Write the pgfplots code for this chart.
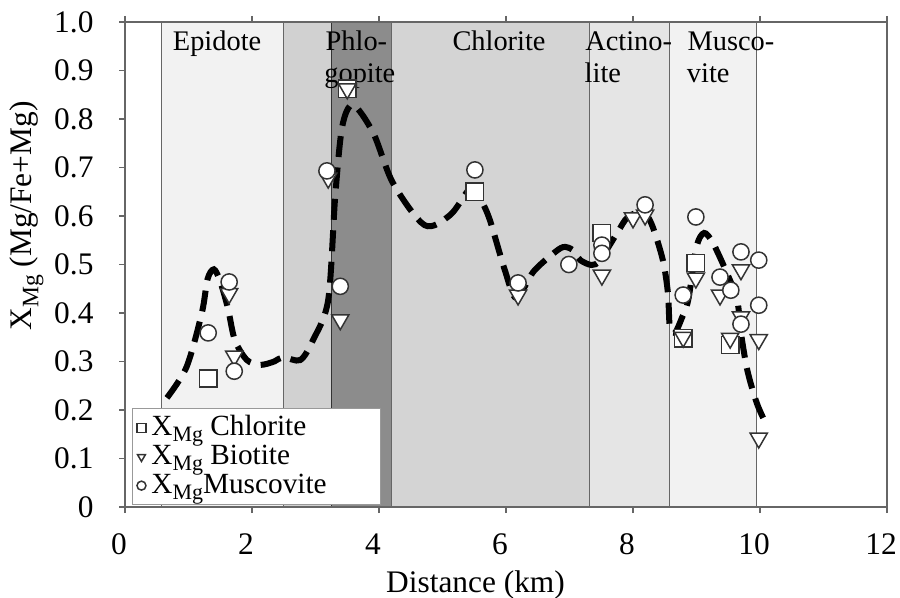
\documentclass[border=0pt]{standalone}
\usepackage{fontspec}
\setmainfont{Liberation Serif}
\usepackage{graphicx}
\usepackage{pgfplots}
\pgfplotsset{compat=1.18}
\newcommand\Mg{\raisebox{-0.45ex}{\scalebox{0.75}{Mg}}}
\definecolor{bandA}{gray}{0.95}
\definecolor{bandB}{gray}{0.82}
\definecolor{bandC}{gray}{0.55}
\definecolor{bandD}{gray}{0.83}
\definecolor{bandE}{gray}{0.90}
\definecolor{bandF}{gray}{0.95}
\definecolor{edge}{gray}{0.40}
\begin{document}
\begin{tikzpicture}
\begin{axis}[
  scale only axis, width=254bp, height=161.67bp,
  xmin=0, xmax=12, ymin=0, ymax=1,
  xtick={0,2,4,6,8,10,12},
  ytick={0,0.1,0.2,0.3,0.4,0.5,0.6,0.7,0.8,0.9,1.0},
  yticklabels={0,0.1,0.2,0.3,0.4,0.5,0.6,0.7,0.8,0.9,1.0},
  /pgf/number format/assume math mode=true,
  xtick pos=both, ytick pos=left, tick align=outside,
  major tick length=2bp,
  axis line style={edge},
  every tick/.style={edge},
  ticklabel style={font=\fontsize{10.5}{12}\selectfont},
  xticklabel style={yshift=-3.5bp, xshift=-2bp},
  yticklabel style={xshift=-5bp},
  xlabel={Distance (km)},
  ylabel={X\Mg{} (Mg/Fe+Mg)},
  label style={font=\fontsize{10.5}{12}\selectfont},
  xlabel style={at={(axis description cs:0.46,0)}, anchor=base, yshift=-28.5bp},
  ylabel style={at={(axis description cs:-0.129,0.60)}, anchor=center, rotate=0},
  axis on top,
  legend image code/.code={\draw[#1, mark size=1.5bp, line width=0.4pt] plot coordinates {(0bp,0bp)};},
  legend style={at={(0.009,0.004)}, anchor=south west, draw=gray!80, fill=white,
    font=\fontsize{9.8}{9.8}\selectfont, inner sep=1.5bp, row sep=0bp,
    column sep=1bp, cells={anchor=west}, nodes={inner sep=0.8bp}},
]
% mineral zones
\addplot[fill=bandA, draw=edge, forget plot] coordinates {(0.58,0) (0.58,1) (2.49,1) (2.49,0)} \closedcycle;
\addplot[fill=bandB, draw=edge, forget plot] coordinates {(2.49,0) (2.49,1) (3.25,1) (3.25,0)} \closedcycle;
\addplot[fill=bandC, draw=black!80, forget plot] coordinates {(3.25,0) (3.25,1) (4.20,1) (4.20,0)} \closedcycle;
\addplot[fill=bandD, draw=edge, forget plot] coordinates {(4.20,0) (4.20,1) (7.31,1) (7.31,0)} \closedcycle;
\addplot[fill=bandE, draw=edge, forget plot] coordinates {(7.31,0) (7.31,1) (8.57,1) (8.57,0)} \closedcycle;
\addplot[fill=bandF, draw=edge, forget plot] coordinates {(8.57,0) (8.57,1) (9.95,1) (9.95,0)} \closedcycle;
% trend curve
\addplot[black, line width=2bp, dash pattern=on 7bp off 3.5bp, smooth, tension=0.5, forget plot] coordinates {
(0.66,0.225) (0.97,0.289) (1.21,0.40) (1.30,0.47) (1.40,0.49) (1.50,0.465) (1.62,0.41) (1.73,0.344)
(1.92,0.303) (2.13,0.293) (2.35,0.30) (2.49,0.309) (2.76,0.303) (2.96,0.344) (3.20,0.427)
(3.31,0.64) (3.42,0.784) (3.59,0.829) (3.91,0.771) (4.22,0.668) (4.72,0.581) (5.12,0.602)
(5.40,0.652) (5.50,0.655) (5.62,0.63) (5.75,0.59) (5.98,0.489) (6.16,0.431) (6.43,0.485)
(6.72,0.52) (6.90,0.536) (7.05,0.53) (7.17,0.509) (7.35,0.499) (7.48,0.509) (7.75,0.565)
(7.92,0.598) (8.16,0.608) (8.30,0.581) (8.47,0.509) (8.55,0.441) (8.58,0.371) (8.66,0.359)
(8.77,0.39) (8.87,0.427) (9.00,0.536) (9.12,0.565) (9.26,0.544) (9.48,0.482) (9.64,0.427)
(9.70,0.359) (9.80,0.282) (9.95,0.214) (10.11,0.167)
};
% data
\addplot[only marks, mark=square*, mark size=2.9bp, mark options={fill=white, draw=black!80, line width=0.5pt}] coordinates {
(1.31,0.265) (3.50,0.862) (5.51,0.65) (7.51,0.565) (8.79,0.348) (8.99,0.503) (9.53,0.334)
};
\addlegendentry{\makebox[74bp][l]{X\Mg{} Chlorite}}
\addplot[only marks, mark=triangle*, mark size=3.3bp, mark options={rotate=180, fill=white, draw=black!80, line width=0.5pt}] coordinates {
(1.64,0.44) (1.72,0.311) (3.20,0.678) (3.39,0.386) (3.50,0.862) (6.19,0.437) (7.51,0.478)
(8.00,0.596) (8.19,0.602) (8.79,0.35) (8.99,0.472) (9.37,0.437) (9.70,0.489) (9.70,0.392)
(9.53,0.348) (9.98,0.345) (9.98,0.142)
};
\addlegendentry{\makebox[74bp][l]{X\Mg{} Biotite}}
\addplot[only marks, mark=*, mark size=2.7bp, mark options={fill=white, draw=black!80, line width=0.5pt}] coordinates {
(1.31,0.359) (1.64,0.464) (1.72,0.28) (3.18,0.693) (3.39,0.455) (5.51,0.695) (6.19,0.462)
(6.99,0.50) (7.51,0.54) (7.51,0.523) (8.19,0.623) (8.99,0.598) (8.79,0.437) (9.37,0.474)
(9.70,0.526) (9.54,0.447) (9.70,0.377) (9.98,0.509) (9.98,0.416)
};
\addlegendentry{\makebox[74bp][l]{X\Mg Muscovite}}
% zone labels
\begin{scope}[every node/.style={font=\fontsize{9.5}{11}\selectfont, inner sep=0pt}]
\node[anchor=base] at (axis cs:1.45,0.942) {Epidote};
\node[anchor=base west] at (axis cs:3.15,0.942) {Phlo-};
\node[anchor=base west] at (axis cs:3.13,0.876) {gopite};
\node[anchor=base] at (axis cs:5.89,0.942) {Chlorite};
\node[anchor=base west] at (axis cs:7.24,0.942) {Actino-};
\node[anchor=base west] at (axis cs:7.23,0.876) {lite};
\node[anchor=base west] at (axis cs:8.85,0.942) {Musco-};
\node[anchor=base west] at (axis cs:8.84,0.876) {vite};
\end{scope}
\coordinate (ll) at (rel axis cs:0,0);
\coordinate (ur) at (rel axis cs:1,1);
\end{axis}
\pgfresetboundingbox
\path[use as bounding box] ([shift={(-41.67bp,-30.33bp)}]ll) rectangle ([shift={(4.33bp,7.33bp)}]ur);
\end{tikzpicture}
\end{document}
